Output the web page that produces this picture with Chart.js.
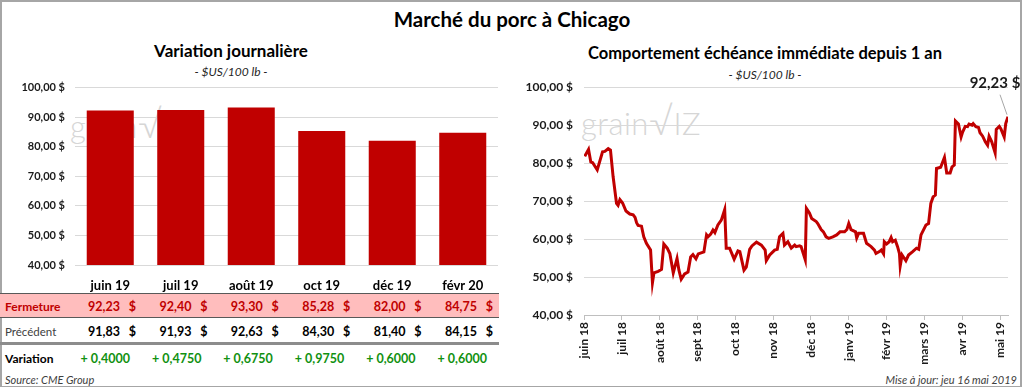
<!DOCTYPE html>
<html>
<head>
<meta charset="utf-8">
<script src="https://cdn.jsdelivr.net/npm/chart.js@4"></script>
<style>
  body { margin: 0; background: #fff; font-family: Lato, "Liberation Sans", sans-serif; color: #000; }
  #page { position: absolute; left: 0; top: 0; width: 1022px; height: 388px; box-sizing: border-box; border: 2px solid #a6a6a6; }
  .abs { position: absolute; white-space: nowrap; }
  .title { font-weight: bold; transform: translate(-50%, -50%); }
  .sub { font-style: italic; font-size: 12px; color: #262626; transform: translate(-50%, -50%); }
  .wm { color: #d6d6d6; font-weight: 300; font-size: 31px; letter-spacing: 0.5px; }
  canvas { position: absolute; }
  .cell { position: absolute; white-space: nowrap; transform: translate(-100%, -50%); font-size: 12.5px; font-weight: bold; }
  .lbl { position: absolute; white-space: nowrap; transform: translateY(-50%); left: 5px; font-size: 12px; }
</style>
</head>
<body>
<div id="page"></div>

<div class="abs title" style="left:512px; top:19px; font-size:20.5px;">Marché du porc à Chicago</div>
<div class="abs title" style="left:231px; top:50px; font-size:17px;">Variation journalière</div>
<div class="abs sub" style="left:231px; top:71px;">- $US/100 lb -</div>
<div class="abs title" style="left:765px; top:53px; font-size:16.5px;">Comportement échéance immédiate depuis 1 an</div>
<div class="abs sub" style="left:765px; top:74px;">- $US/100 lb -</div>

<!-- grainwiz watermarks, behind the canvases -->
<div class="abs wm" style="left:70px; top:100px;">grain<span style="font-size:38px">√</span>IZ</div>
<div class="abs wm" style="left:581px; top:97px;">grain<span style="font-size:38px">√</span>IZ</div>

<canvas id="left" width="505" height="224" style="left:0px; top:71px;"></canvas>
<canvas id="right" width="516" height="301" style="left:505px; top:69px;"></canvas>

<div id="table"></div>

<div class="abs" style="left:5px; top:379px; transform:translateY(-50%); font-size:11px; font-style:italic; color:#404040;">Source: CME Group</div>
<div class="abs" style="right:7px; top:379px; transform:translateY(-50%); font-size:11px; font-style:italic; color:#404040;">Mise à jour: jeu 16 mai 2019</div>

<script>
// contracts (left chart + table)
const contracts = ['juin 19', 'juil 19', 'août 19', 'oct 19', 'déc 19', 'févr 20'];
const closes = [92.23, 92.40, 93.30, 85.28, 82.00, 84.75];
const previous = [91.83, 91.93, 92.63, 84.30, 81.40, 84.15];
const changes = [0.4000, 0.4750, 0.6750, 0.9750, 0.6000, 0.6000];

// nearby contract over one year (right chart), x = months since juin 18
const monthLabels = ['juin 18', 'juil 18', 'août 18', 'sept 18', 'oct 18', 'nov 18', 'déc 18', 'janv 19', 'févr 19', 'mars 19', 'avr 19', 'mai 19'];
const nearbyPos = [0.02, 0.12, 0.18, 0.23, 0.35, 0.49, 0.55, 0.64, 0.70, 0.77, 0.86, 0.90, 0.95, 1.02, 1.11, 1.21, 1.30, 1.35, 1.39, 1.43,
  1.52, 1.58, 1.65, 1.76, 1.81, 1.85, 1.96, 2.05, 2.11, 2.20, 2.27, 2.36, 2.46, 2.51, 2.57, 2.66, 2.75, 2.82, 2.88, 2.96,
  3.02, 3.17, 3.24, 3.28, 3.35, 3.41, 3.46, 3.54, 3.63, 3.72, 3.76, 3.85, 3.97, 4.07, 4.12, 4.23, 4.29, 4.38, 4.44, 4.56,
  4.69, 4.79, 4.82, 4.91, 5.04, 5.11, 5.17, 5.26, 5.30, 5.39, 5.48, 5.57, 5.61, 5.70, 5.74, 5.85, 5.88, 5.96, 6.02, 6.14,
  6.18, 6.27, 6.33, 6.40, 6.47, 6.58, 6.68, 6.77, 6.89, 6.95, 7.00, 7.06, 7.18, 7.21, 7.26, 7.39, 7.47, 7.59, 7.68, 7.72,
  7.81, 7.86, 7.92, 7.94, 8.00, 8.07, 8.12, 8.16, 8.23, 8.29, 8.34, 8.36, 8.41, 8.51, 8.58, 8.69, 8.79, 8.85, 8.91, 9.04,
  9.11, 9.17, 9.23, 9.29, 9.32, 9.43, 9.53, 9.59, 9.68, 9.73, 9.79, 9.82, 9.90, 9.97, 10.01, 10.08, 10.14, 10.18, 10.26, 10.29,
  10.36, 10.43, 10.47, 10.54, 10.61, 10.67, 10.71, 10.78, 10.87, 10.90, 10.98, 11.02, 11.11, 11.15, 11.21];
const nearbyVals = [81.8, 83.6, 80.3, 80.1, 78.2, 83.0, 83.1, 83.8, 83.4, 76.4, 69.4, 68.9, 70.4, 69.5, 67.4, 66.6, 66.4, 65.7, 64.3, 63.6,
  63.4, 60.6, 58.9, 57.1, 48.5, 51.1, 51.5, 52.0, 58.7, 57.6, 56.2, 51.1, 54.9, 51.8, 49.4, 50.8, 51.3, 55.3, 55.9, 54.8,
  56.1, 56.6, 61.1, 60.6, 61.3, 62.4, 61.7, 63.7, 65.0, 67.8, 57.6, 57.6, 54.7, 56.9, 56.7, 51.8, 52.6, 57.3, 58.2, 59.2,
  58.4, 57.1, 54.3, 55.8, 57.1, 57.3, 60.6, 61.5, 58.4, 59.3, 57.6, 58.4, 58.0, 58.2, 58.0, 54.5, 68.1, 66.9, 65.4, 64.6,
  64.1, 62.5, 61.9, 60.6, 60.2, 60.6, 61.1, 61.9, 61.9, 62.5, 64.1, 62.5, 61.9, 60.3, 61.5, 61.5, 58.9, 58.0, 57.1, 56.2,
  56.7, 57.1, 56.1, 59.3, 58.7, 59.3, 60.4, 59.3, 59.7, 58.0, 56.2, 52.9, 55.8, 54.3, 55.8, 56.7, 57.6, 57.3, 61.1, 63.7,
  64.1, 69.4, 71.1, 71.6, 78.6, 78.9, 81.5, 77.4, 77.4, 79.0, 79.5, 91.1, 90.3, 86.9, 88.2, 89.7, 89.6, 90.3, 90.0, 90.4,
  89.6, 89.4, 88.0, 87.1, 85.6, 84.7, 87.1, 85.6, 82.7, 88.9, 89.7, 89.1, 86.9, 90.4, 92.23];

const RED = '#c00000';
const FONT = 'Lato, "Liberation Sans", sans-serif';

function money(v) {
  return v.toFixed(2).replace('.', ',') + ' $';
}

// ---- table under the bar chart ----
function buildTable() {
  const t = document.getElementById('table');
  let html = '';
  // row backgrounds and rules
  html += '<div class="abs" style="left:0;top:293px;width:499px;height:25px;background:#ffbdbd;border-top:1px solid #595959;border-bottom:1px solid #595959;box-sizing:border-box;"></div>';
  html += '<div class="abs" style="left:0;top:342px;width:499px;height:3px;background:#8c8c8c;"></div>';
  html += '<div class="lbl" style="top:306px;color:' + RED + ';font-weight:bold;">Fermeture</div>';
  html += '<div class="lbl" style="top:331px;color:#404040;font-size:11.5px;">Précédent</div>';
  html += '<div class="lbl" style="top:358px;font-weight:bold;">Variation</div>';
  contracts.forEach((c, i) => {
    const right = 136 + i * 71.4;
    const num = closes[i].toFixed(2).replace('.', ',');
    const prev = previous[i].toFixed(2).replace('.', ',');
    html += `<div class="cell" style="left:${right - 16}px;top:306px;color:${RED}">${num}</div>`;
    html += `<div class="cell" style="left:${right}px;top:306px;color:${RED}">$</div>`;
    html += `<div class="cell" style="left:${right - 16}px;top:331px;">${prev}</div>`;
    html += `<div class="cell" style="left:${right}px;top:331px;">$</div>`;
    html += `<div class="cell" style="left:${right - 6}px;top:358px;color:#119111;">+ ${changes[i].toFixed(4).replace('.', ',')}</div>`;
  });
  t.innerHTML = html;
}
buildTable();

// ---- left: bar chart of closes ----
new Chart(document.getElementById('left'), {
  type: 'bar',
  data: {
    labels: contracts,
    datasets: [{
      data: closes,
      backgroundColor: RED,
      barPercentage: 0.667,
      categoryPercentage: 1
    }]
  },
  options: {
    responsive: false,
    animation: false,
    layout: { padding: { top: 0, right: 7, left: 0, bottom: 0 } },
    plugins: { legend: { display: false }, tooltip: { enabled: false } },
    scales: {
      y: {
        min: 40, max: 100,
        ticks: { stepSize: 10, padding: 10, color: '#1a1a1a', font: { family: FONT, size: 11, weight: 'bold' }, callback: v => money(v) },
        grid: { color: '#d9d9d9', drawTicks: false },
        border: { display: false },
        afterFit: s => { s.width = 75; }
      },
      x: {
        grid: { display: false, drawTicks: false },
        border: { display: false },
        ticks: { padding: 13, color: '#000', font: { family: FONT, size: 13, weight: 'bold' } },
        afterFit: s => { s.height = 30; }
      }
    }
  }
});

// ---- right: nearby contract line ----
const lastLabel = {
  id: 'lastLabel',
  afterDatasetsDraw(chart) {
    const i = nearbyVals.length - 1;
    const px = chart.scales.x.getPixelForValue(nearbyPos[i]);
    const py = chart.scales.y.getPixelForValue(nearbyVals[i]);
    const ctx = chart.ctx;
    ctx.save();
    ctx.strokeStyle = '#a6a6a6';
    ctx.lineWidth = 1;
    ctx.beginPath();
    ctx.moveTo(px - 1, py - 2);
    ctx.lineTo(px - 8, py - 22);
    ctx.stroke();
    ctx.fillStyle = '#1a1a1a';
    ctx.font = 'bold 15px ' + FONT;
    ctx.textAlign = 'center';
    ctx.textBaseline = 'middle';
    ctx.fillText(money(nearbyVals[i]), px - 13, py - 34);
    ctx.restore();
  }
};

new Chart(document.getElementById('right'), {
  type: 'line',
  data: {
    datasets: [{
      data: nearbyPos.map((m, i) => ({ x: m, y: nearbyVals[i] })),
      borderColor: RED,
      borderWidth: 3,
      pointRadius: 0,
      tension: 0
    }]
  },
  options: {
    responsive: false,
    animation: false,
    layout: { padding: { top: 0, right: 13, left: 0, bottom: 0 } },
    plugins: { legend: { display: false }, tooltip: { enabled: false } },
    scales: {
      y: {
        min: 40, max: 100,
        ticks: { stepSize: 10, padding: 11, color: '#1a1a1a', font: { family: FONT, size: 12, weight: 'bold' }, callback: v => money(v) },
        grid: { color: '#d9d9d9', drawTicks: false },
        border: { display: false },
        afterFit: s => { s.width = 79; }
      },
      x: {
        type: 'linear',
        min: 0,
        max: nearbyPos[nearbyPos.length - 1],
        afterBuildTicks: s => { s.ticks = monthLabels.map((_, i) => ({ value: i })); },
        ticks: {
          autoSkip: false, minRotation: 90, maxRotation: 90, padding: 2,
          color: '#1a1a1a', font: { family: FONT, size: 12, weight: 'bold' },
          callback: v => monthLabels[v]
        },
        grid: { drawOnChartArea: false, tickLength: 5, color: '#bfbfbf' },
        border: { display: true, color: '#bfbfbf' },
        afterFit: s => { s.height = 55; }
      }
    }
  },
  plugins: [lastLabel]
});
</script>
</body>
</html>
